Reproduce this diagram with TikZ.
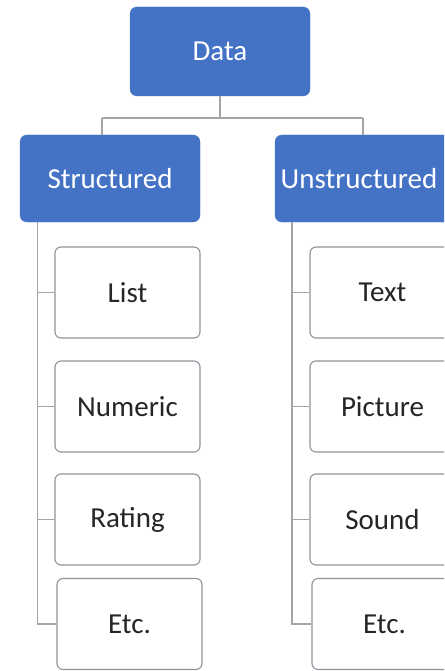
\documentclass[tikz,border=0pt]{standalone}
\usepackage{fontspec}
\setmainfont{Carlito}
\definecolor{hblue}{HTML}{4472C4}
\definecolor{lgray}{HTML}{A5A5A5}
\definecolor{bgray}{HTML}{8E949C}
\definecolor{txt}{HTML}{262626}
\tikzset{
  headbox/.style={draw=hblue, fill=hblue, rounded corners=7pt, text=white, font=\fontsize{29}{33}\selectfont, inner sep=0pt},
  leafbox/.style={draw=bgray, line width=1.1pt, fill=white, rounded corners=6pt, text=txt, font=\fontsize{29}{33}\selectfont, inner sep=0pt, minimum width=145pt},
  conn/.style={draw=lgray, line width=1.3pt}
}
\begin{document}
\begin{tikzpicture}[x=1pt,y=-1pt]
\clip (0,0) rectangle (444,671);
\fill[white] (0,0) rectangle (444,671);
% heads
\node[headbox, minimum width=180pt, minimum height=89pt] (data) at (220,51.5) {Data};
\node[headbox, minimum width=180pt, minimum height=87pt] (str) at (110,178.5) {Structured};
\node[headbox, minimum width=180pt, minimum height=87pt] (uns) at (365,178.5) {Unstructured\hspace*{12pt}};
% left leaves
\node[leafbox, minimum height=91pt] (l1) at (127.5,292.5) {List};
\node[leafbox, minimum height=91pt] (l2) at (127.5,406.5) {Numeric};
\node[leafbox, minimum height=91pt] (l3) at (127.5,519.5) {Rating};
\node[leafbox, minimum height=91pt] (l4) at (129.5,624) {Etc.};
% right leaves
\node[leafbox, minimum height=91pt] (r1) at (382.5,292.5) {Text};
\node[leafbox, minimum height=91pt] (r2) at (382.5,406.5) {Picture};
\node[leafbox, minimum height=91pt] (r3) at (382.5,519.5) {Sound};
\node[leafbox, minimum height=91pt] (r4) at (384.5,624) {Etc.};
% connectors top
\coordinate (bus) at (220,118);
\coordinate (bl) at (102,118);
\coordinate (br) at (363,118);
\draw[conn] (data.south) -- (bus);
\draw[conn] (bl) -- (br);
\draw[conn] (bl) -- (bl |- str.north);
\draw[conn] (br) -- (br |- uns.north);
% left branch
\coordinate (sv) at (37.5,222);
\draw[conn] (sv) |- (l4.west);
\draw[conn] (sv |- l1.west) -- (l1.west);
\draw[conn] (sv |- l2.west) -- (l2.west);
\draw[conn] (sv |- l3.west) -- (l3.west);
% right branch
\coordinate (uv) at (292,222);
\draw[conn] (uv) |- (r4.west);
\draw[conn] (uv |- r1.west) -- (r1.west);
\draw[conn] (uv |- r2.west) -- (r2.west);
\draw[conn] (uv |- r3.west) -- (r3.west);
\end{tikzpicture}
\end{document}
